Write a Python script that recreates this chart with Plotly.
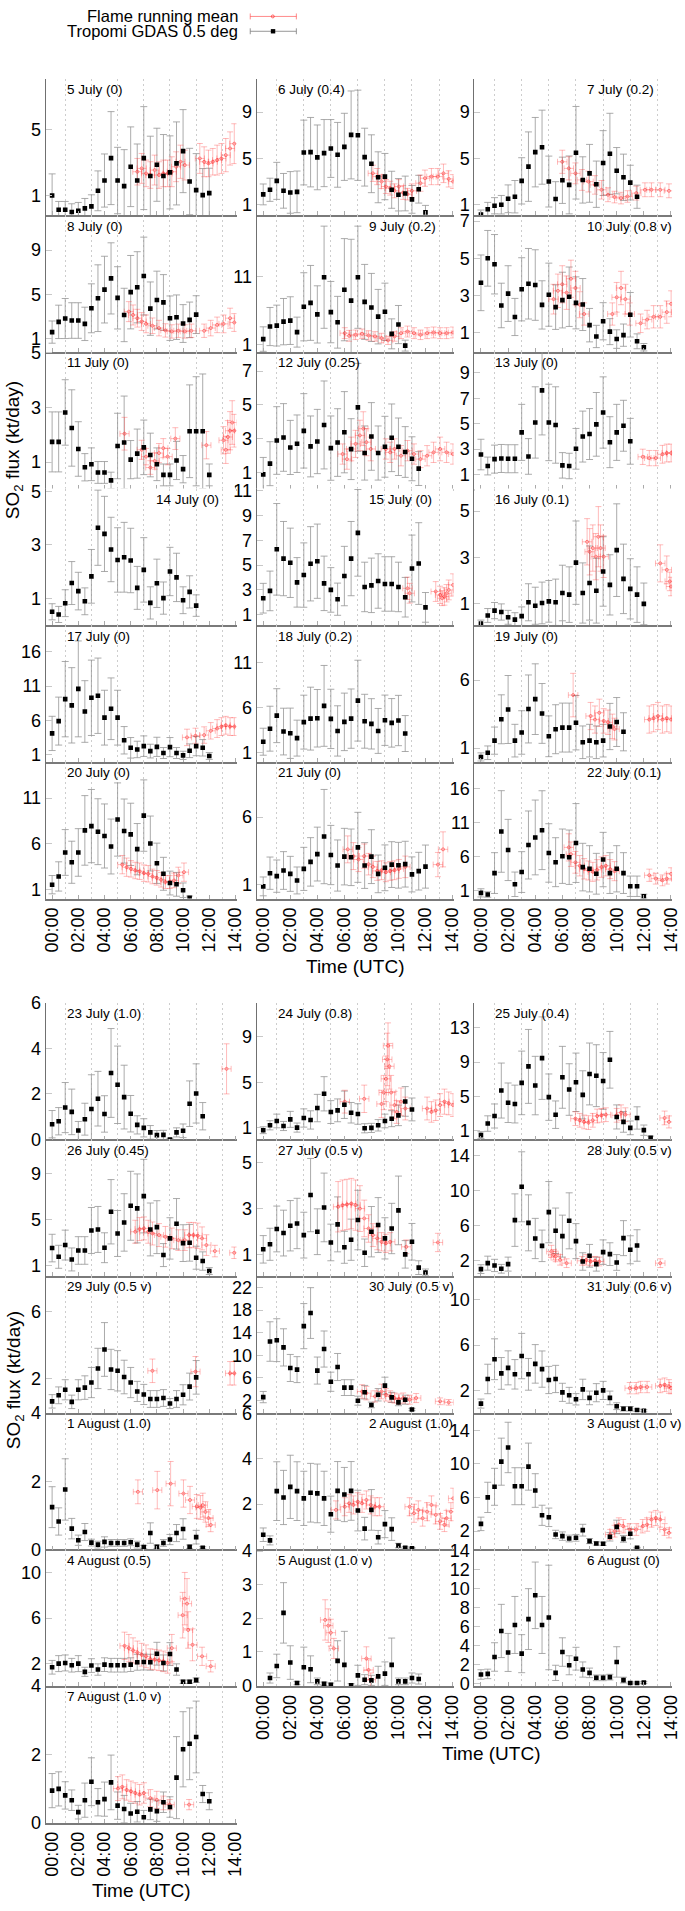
import plotly.graph_objects as go

FIG_W, FIG_H = 685, 1911

HALF_HOURS = [0.0, 0.5, 1.0, 1.5, 2.0, 2.5, 3.0, 3.5, 4.0, 4.5, 5.0, 5.5, 6.0, 6.5,
              7.0, 7.5, 8.0, 8.5, 9.0, 9.5, 10.0, 10.5, 11.0, 11.5, 12.0, 12.5]
X_TICKS = [0, 2, 4, 6, 8, 10, 12, 14]
X_TICKTEXT = ["00:00", "02:00", "04:00", "06:00", "08:00", "10:00", "12:00", "14:00"]
GRID_HOURS = [1, 3, 5, 7, 9, 11, 13]
X_RANGE = [-0.49, 14.08]
FLAME_XERR = 0.35

TITLES = ["5 July (0)", "6 July (0.4)", "7 July (0.2)", "8 July (0)", "9 July (0.2)", "10 July (0.8 v)",
          "11 July (0)", "12 July (0.25)", "13 July (0)", "14 July (0)", "15 July (0)", "16 July (0.1)",
          "17 July (0)", "18 July (0.2)", "19 July (0)", "20 July (0)", "21 July (0)", "22 July (0.1)",
          "23 July (1.0)", "24 July (0.8)", "25 July (0.4)", "26 July (0.45)", "27 July (0.5 v)", "28 July (0.5 v)",
          "29 July (0.5 v)", "30 July (0.5 v)", "31 July (0.6 v)", "1 August (1.0)", "2 August (1.0)", "3 August (1.0 v)",
          "4 August (0.5)", "5 August (1.0 v)", "6 August (0)", "7 August (1.0 v)"]
TITLE_SIDE = ["L", "L", "R", "L", "R", "R", "L", "L", "L", "R", "R", "L", "L", "L", "L", "L", "L", "R",
              "L", "L", "L", "L", "L", "R", "L", "R", "R", "L", "R", "R", "L", "L", "R", "L"]
Y_RANGES = [[-0.17, 8.06], [0.09, 11.9], [0.09, 11.9], [-0.16, 12.13], [-0.06, 20.0], [-0.04, 7.32],
            [0.03, 5.04], [0.06, 8.14], [-0.09, 10.64], [0.01, 5.1], [0.15, 11.19], [0.07, 5.97],
            [-0.05, 19.9], [-0.01, 15.2], [-0.01, 10.04], [0.03, 14.96], [-0.05, 10.1], [-0.12, 19.98],
            [0.0, 6.0], [-0.01, 11.96], [0.0, 15.9], [0.07, 11.96], [0.05, 6.02], [0.25, 15.87],
            [-0.05, 8.09], [-0.2, 24.03], [0.03, 12.08], [0.0, 4.01], [-0.01, 6.04], [-0.17, 16.09],
            [0.03, 12.02], [-0.02, 4.05], [-0.28, 14.1], [0.0, 4.0]]
Y_TICKS = [[1, 5], [1, 5, 9], [1, 5, 9], [1, 5, 9], [1, 11], [1, 3, 5, 7],
           [1, 3, 5], [1, 3, 5, 7], [1, 3, 5, 7, 9], [1, 3, 5], [1, 3, 5, 7, 9, 11], [1, 3, 5],
           [1, 6, 11, 16], [1, 6, 11], [1, 6], [1, 6, 11], [1, 6], [1, 6, 11, 16],
           [0, 2, 4, 6], [1, 5, 9], [1, 5, 9, 13], [1, 5, 9], [1, 3, 5], [2, 6, 10, 14],
           [2, 6], [2, 6, 10, 14, 18, 22], [2, 6, 10], [0, 2, 4], [2, 4, 6], [2, 6, 10, 14],
           [2, 6, 10], [0, 1, 2, 3, 4], [0, 2, 4, 6, 8, 10, 12, 14], [0, 2, 4]]

# ---------------- Tropomi GDAS 0.5 deg (every 30 min from 00:00) ----------------
T_05JUL = [1.02, 0.16, 0.16, 0.02, 0.1, 0.24, 0.36, 1.3, 1.92, 3.27, 1.92, 1.58, 2.75, 1.92, 3.27, 2.19, 2.87, 2.19, 2.41, 2.95, 3.69, 1.86, 1.34, 1.04, 1.16]
E_05JUL = [1.3, 0.5, 0.5, 0.5, 0.5, 0.6, 0.7, 1.2, 1.6, 2.8, 2.0, 2.2, 2.4, 2.2, 3.1, 2.4, 2.2, 2.5, 2.2, 2.5, 2.5, 2.0, 2.2, 1.6, 1.5]
T_06JUL = [1.89, 2.29, 3.06, 2.2, 2.06, 2.11, 5.51, 5.54, 5.09, 5.46, 5.86, 5.31, 6.0, 7.03, 7.0, 5.11, 4.54, 3.37, 3.43, 2.29, 1.86, 1.97, 1.46, 2.34, 0.34]
E_06JUL = [0.9, 1.0, 1.6, 1.5, 1.8, 1.8, 2.8, 3.0, 2.8, 2.9, 2.5, 2.8, 2.9, 3.8, 3.9, 2.5, 2.5, 2.2, 2.0, 1.6, 1.4, 1.5, 1.2, 1.2, 0.6]
T_07JUL = [0.14, 0.6, 0.91, 1.0, 1.51, 1.69, 3.06, 4.29, 5.54, 5.97, 3.0, 1.49, 3.11, 2.71, 5.49, 3.14, 3.71, 2.77, 4.6, 5.4, 3.94, 3.37, 2.91, 1.69]
E_07JUL = [0.4, 0.6, 0.7, 0.8, 1.2, 1.4, 2.0, 3.0, 3.0, 3.2, 2.2, 1.5, 2.0, 2.5, 4.0, 2.0, 2.5, 2.0, 2.8, 3.5, 2.0, 2.0, 1.5, 1.0]
T_08JUL = [1.62, 2.54, 2.84, 2.66, 2.66, 2.36, 3.76, 4.67, 5.44, 6.45, 4.7, 3.16, 5.21, 5.65, 6.66, 3.73, 4.5, 4.29, 2.87, 2.96, 2.39, 2.72, 3.19]
E_08JUL = [1.0, 1.5, 1.8, 1.6, 1.6, 1.5, 2.2, 3.0, 3.0, 3.2, 2.8, 2.4, 3.3, 3.2, 3.5, 2.4, 2.6, 2.5, 2.0, 2.0, 1.7, 1.6, 1.7]
T_09JUL = [1.82, 3.66, 3.8, 4.38, 4.53, 2.84, 6.56, 7.13, 5.44, 10.9, 5.78, 4.29, 9.07, 7.47, 10.9, 7.28, 6.46, 5.11, 5.83, 2.59, 3.95, 0.86]
E_09JUL = [1.8, 2.8, 3.0, 3.4, 3.5, 2.2, 5.0, 5.5, 4.2, 7.5, 4.5, 3.8, 7.5, 9.0, 7.5, 5.5, 5.0, 4.0, 4.2, 2.2, 2.8, 0.8]
T_10JUL = [3.68, 5.0, 4.68, 2.46, 3.1, 1.84, 3.33, 3.63, 3.56, 2.49, 3.04, 2.37, 2.75, 2.93, 2.6, 2.51, 1.4, 0.79, 1.61, 1.05, 0.65, 0.86, 1.96, 0.53, 0.21]
E_10JUL = [1.5, 1.5, 1.6, 1.2, 1.5, 1.0, 1.7, 1.9, 1.9, 1.3, 1.7, 1.2, 1.5, 1.6, 1.4, 1.4, 0.9, 0.6, 1.0, 0.7, 0.5, 0.6, 1.2, 0.4, 0.2]
T_11JUL = [1.74, 1.74, 2.82, 2.25, 1.48, 0.81, 0.92, 0.62, 0.62, 0.33, 1.59, 1.72, 1.09, 1.31, 1.54, 1.26, 0.92, 0.53, 0.53, 1.06, 0.74, 2.13, 2.13, 2.13, 0.53]
E_11JUL = [1.1, 1.1, 1.2, 1.4, 1.0, 0.5, 0.6, 0.4, 0.4, 0.3, 1.2, 1.7, 0.7, 0.9, 1.0, 0.8, 0.6, 0.4, 0.4, 0.7, 0.5, 1.7, 2.0, 2.1, 0.4]
T_12JUL = [0.9, 1.53, 2.9, 3.08, 2.49, 2.71, 3.47, 2.55, 2.84, 3.82, 2.45, 2.78, 3.39, 2.39, 4.86, 2.16, 3.14, 2.16, 2.53, 3.06, 2.53, 2.22, 1.82, 1.24]
E_12JUL = [1.0, 1.3, 2.0, 2.0, 1.6, 1.7, 2.2, 1.8, 1.9, 2.6, 1.9, 2.0, 2.4, 1.8, 2.6, 1.6, 2.0, 1.6, 1.8, 2.0, 1.7, 1.5, 1.3, 1.0]
T_13JUL = [2.58, 1.68, 2.22, 2.27, 2.25, 2.25, 4.32, 2.43, 5.1, 7.62, 5.1, 4.9, 1.73, 1.68, 3.03, 3.99, 4.19, 4.95, 5.88, 3.55, 4.32, 4.84, 3.62]
E_13JUL = [1.2, 0.7, 1.1, 1.1, 1.1, 1.1, 2.2, 1.4, 2.8, 3.5, 3.0, 3.0, 1.0, 1.0, 1.6, 2.0, 2.0, 2.5, 2.8, 2.0, 2.2, 2.0, 1.8]
T_14JUL = [0.51, 0.41, 0.83, 1.58, 1.28, 0.9, 1.83, 3.64, 3.41, 2.83, 2.44, 2.54, 2.42, 1.4, 2.07, 0.84, 1.57, 1.02, 2.01, 1.79, 0.94, 1.25, 0.74]
E_14JUL = [0.3, 0.3, 0.5, 0.8, 0.7, 0.5, 1.0, 1.4, 1.4, 1.2, 1.2, 1.3, 1.2, 0.8, 1.2, 0.6, 0.9, 0.6, 0.9, 0.9, 0.5, 0.6, 0.4]
T_15JUL = [2.33, 2.92, 6.28, 5.53, 5.19, 3.61, 4.2, 5.11, 5.32, 3.53, 3.0, 2.25, 4.12, 5.53, 7.61, 3.24, 3.37, 3.72, 3.48, 3.48, 3.24, 2.41, 4.73, 5.13, 1.59]
E_15JUL = [1.2, 1.6, 3.7, 3.0, 2.8, 2.0, 2.6, 3.0, 3.0, 2.2, 1.8, 1.3, 2.4, 3.0, 3.5, 2.0, 2.2, 2.2, 2.2, 2.2, 2.0, 1.6, 2.7, 3.3, 1.2]
T_16JUL = [0.14, 0.49, 0.7, 0.64, 0.41, 0.31, 0.46, 1.06, 0.91, 1.03, 1.1, 1.06, 1.46, 1.39, 2.77, 1.46, 1.89, 1.56, 2.39, 1.81, 3.31, 2.07, 1.64, 1.39, 0.99]
E_16JUL = [0.15, 0.3, 0.35, 0.35, 0.3, 0.3, 0.4, 0.8, 0.8, 0.9, 0.9, 1.0, 1.2, 1.2, 1.8, 1.3, 1.6, 1.4, 1.5, 1.3, 2.0, 1.5, 1.3, 1.2, 0.9]
T_17JUL = [4.1, 5.9, 9.1, 8.2, 10.6, 7.3, 9.3, 9.6, 6.4, 7.7, 6.4, 3.1, 2.0, 1.76, 2.24, 1.52, 2.14, 1.24, 2.1, 1.24, 0.9, 1.57, 2.24, 2.0, 0.81]
E_17JUL = [2.5, 3.5, 5.5, 5.5, 7.0, 4.5, 5.5, 5.5, 4.0, 4.5, 4.0, 2.0, 1.5, 1.2, 1.5, 1.0, 1.4, 0.8, 1.4, 0.8, 0.6, 1.0, 1.4, 1.2, 0.5]
T_18JUL = [2.23, 3.68, 5.13, 3.36, 3.17, 2.63, 4.41, 4.8, 4.84, 6.22, 4.77, 3.43, 4.44, 4.8, 6.8, 4.51, 4.22, 3.43, 4.62, 4.33, 4.59, 3.14]
E_18JUL = [1.5, 2.5, 3.0, 2.6, 2.8, 2.0, 3.0, 3.5, 3.2, 4.5, 3.3, 2.8, 3.2, 3.3, 4.5, 3.0, 2.8, 2.5, 2.8, 2.7, 2.8, 2.0]
T_19JUL = [0.35, 0.66, 1.55, 3.12, 3.84, 1.55, 2.15, 3.88, 4.6, 3.55, 1.87, 2.39, 2.51, 2.51, 2.87, 1.43, 1.55, 1.43, 1.55, 2.59, 2.92, 2.2]
E_19JUL = [0.3, 0.5, 1.0, 1.8, 2.5, 1.2, 1.6, 2.5, 2.6, 2.2, 1.5, 1.8, 1.8, 1.8, 2.0, 1.2, 1.2, 1.2, 1.2, 1.7, 1.8, 1.4]
T_20JUL = [1.54, 2.44, 5.06, 3.99, 5.06, 7.47, 7.94, 7.33, 6.86, 5.71, 8.66, 7.4, 7.04, 5.42, 9.09, 6.04, 3.88, 2.73, 1.72, 1.58, 0.93, 0.1]
E_20JUL = [1.0, 1.6, 2.5, 2.3, 2.6, 3.8, 4.0, 3.6, 3.5, 3.0, 4.0, 3.5, 3.4, 2.8, 3.9, 3.0, 2.2, 1.8, 1.3, 1.3, 0.8, 0.2]
T_21JUL = [0.85, 1.83, 1.61, 2.03, 1.78, 1.29, 2.15, 2.67, 3.25, 4.55, 3.18, 2.4, 3.06, 3.01, 3.75, 2.4, 3.06, 1.78, 2.23, 2.47, 2.42, 2.5, 1.74, 1.98, 2.32]
E_21JUL = [0.7, 1.2, 1.2, 1.4, 1.3, 1.0, 1.6, 1.8, 2.0, 3.5, 2.2, 1.9, 2.1, 2.1, 2.6, 1.7, 2.0, 1.4, 1.7, 1.7, 1.7, 1.7, 1.3, 1.4, 1.6]
T_22JUL = [0.71, 0.47, 3.62, 9.74, 7.02, 1.97, 3.77, 7.75, 8.86, 9.93, 6.58, 5.22, 6.1, 5.95, 8.04, 4.5, 4.25, 3.52, 5.61, 3.62, 4.25, 3.62, 1.68, 1.68, 0.22]
E_22JUL = [0.6, 0.4, 3.0, 6.0, 4.5, 1.8, 3.0, 5.0, 5.5, 5.8, 4.3, 3.6, 4.0, 4.0, 5.8, 3.5, 3.4, 3.0, 4.0, 3.0, 3.4, 3.0, 1.5, 1.5, 0.3]
T_23JUL = [0.67, 0.8, 1.4, 1.21, 0.39, 0.89, 1.34, 1.79, 1.12, 2.92, 2.4, 1.86, 1.13, 0.64, 0.51, 0.31, 0.19, 0.2, 0.0, 0.31, 0.38, 1.57, 2.02, 1.02]
E_23JUL = [0.6, 0.6, 1.1, 1.0, 0.4, 0.7, 1.5, 1.2, 0.8, 1.95, 1.7, 1.4, 0.8, 0.4, 0.4, 0.3, 0.2, 0.2, 0.05, 0.2, 0.3, 1.0, 1.3, 0.6]
T_24JUL = [0.8, 1.23, 1.61, 1.17, 1.75, 1.03, 1.87, 1.7, 2.74, 3.99, 2.39, 2.54, 3.03, 2.33, 2.22, 0.97, 1.0, 1.23, 1.61, 1.81, 2.1, 3.32, 2.62]
E_24JUL = [0.3, 0.4, 0.6, 0.4, 0.7, 0.4, 0.8, 0.8, 1.2, 1.5, 1.0, 1.0, 1.2, 0.9, 0.9, 0.4, 0.4, 0.5, 0.6, 0.7, 0.9, 1.3, 1.0]
T_25JUL = [0.5, 1.85, 2.73, 5.69, 4.27, 4.12, 6.58, 8.5, 6.27, 9.46, 4.92, 2.88, 7.23, 5.81, 6.65, 5.19, 7.62, 7.42, 6.81, 9.27, 2.62, 2.04, 1.35, 2.5, 1.08, 0.19]
E_25JUL = [0.4, 0.9, 1.4, 3.2, 2.3, 2.2, 3.7, 4.3, 3.4, 4.8, 2.7, 1.6, 3.6, 3.0, 3.4, 2.8, 3.6, 3.6, 3.3, 3.3, 1.4, 1.2, 0.8, 1.3, 0.6, 0.2]
T_26JUL = [2.51, 1.75, 2.77, 1.52, 2.3, 2.3, 4.04, 4.13, 2.54, 5.67, 3.78, 4.74, 6.19, 5.96, 7.03, 4.13, 4.33, 1.9, 3.35, 4.62, 2.94, 2.97, 1.67, 1.38, 0.51]
E_26JUL = [1.2, 1.0, 1.3, 1.0, 1.2, 1.2, 2.0, 2.0, 1.3, 2.8, 2.0, 2.5, 3.0, 3.0, 3.2, 2.3, 2.3, 1.0, 1.8, 2.2, 1.6, 1.6, 1.0, 0.8, 0.3]
T_27JUL = [1.22, 1.44, 2.11, 1.93, 2.25, 2.35, 1.84, 3.59, 1.99, 3.05, 1.52, 2.31, 1.31, 1.64, 2.5, 1.07, 1.99, 2.28, 1.7, 2.13, 2.92, 1.0, 1.55, 0.42, 0.21]
E_27JUL = [0.6, 0.7, 1.0, 1.0, 1.1, 1.1, 1.0, 1.6, 1.0, 1.5, 0.8, 1.2, 0.7, 0.9, 1.3, 0.6, 1.1, 1.2, 0.9, 1.1, 1.5, 0.6, 0.8, 0.3, 0.15]
T_28JUL = [1.05, 1.73, 1.47, 1.09, 1.62, 6.65, 10.46, 6.34, 4.55, 3.71, 7.56, 5.43, 4.82, 6.57, 4.25, 1.92, 2.57, 1.62, 2.99, 2.76, 1.81, 4.59, 3.26, 3.75]
E_28JUL = [0.5, 0.8, 0.7, 0.5, 0.8, 3.0, 4.0, 3.2, 2.3, 1.8, 3.5, 2.6, 2.4, 3.2, 2.0, 1.0, 1.3, 0.8, 1.4, 1.3, 0.9, 2.0, 1.6, 1.8]
T_29JUL = [0.63, 0.99, 1.32, 0.6, 1.32, 1.45, 1.75, 2.59, 3.72, 2.53, 2.45, 2.08, 1.75, 1.22, 1.04, 0.77, 0.77, 0.83, 0.5, 0.77, 1.02, 1.51, 2.06]
E_29JUL = [0.4, 0.5, 0.6, 0.4, 0.6, 0.7, 0.9, 1.2, 1.6, 1.2, 1.2, 1.0, 0.9, 0.6, 0.6, 0.5, 0.5, 0.5, 0.3, 0.5, 0.6, 0.8, 1.0]
T_30JUL = [2.58, 12.43, 12.67, 11.39, 7.74, 7.45, 15.16, 17.48, 7.28, 11.1, 5.3, 7.91, 4.26, 4.26, 1.94, 3.45, 1.19, 2.99, 4.61, 2.52, 1.65, 2.12, 0.38]
E_30JUL = [1.0, 3.5, 3.8, 3.3, 2.4, 2.3, 4.0, 4.5, 2.4, 3.2, 1.7, 2.4, 1.4, 1.4, 0.8, 1.2, 0.5, 1.1, 1.5, 0.9, 0.6, 0.8, 0.2]
T_31JUL = [0.84, 3.01, 4.75, 3.5, 3.99, 3.42, 5.03, 3.42, 4.34, 3.88, 2.92, 3.01, 1.83, 1.57, 1.22, 2.09, 1.34, 1.8, 2.0, 1.34, 0.61, 0.38, 0.38, 0.27, 0.21]
E_31JUL = [0.4, 1.3, 1.8, 1.4, 1.5, 1.3, 2.0, 1.4, 1.7, 1.6, 1.2, 1.2, 0.8, 0.7, 0.5, 0.9, 0.6, 0.8, 0.8, 0.6, 0.3, 0.2, 0.2, 0.1, 0.1]
T_01AUG = [1.24, 0.82, 1.76, 0.61, 0.27, 0.51, 0.2, 0.14, 0.22, 0.19, 0.19, 0.19, 0.21, 0.14, 0.07, 0.48, 0.08, 0.19, 0.29, 0.48, 0.6, 0.08, 0.36, 0.05]
E_01AUG = [0.6, 0.4, 0.9, 0.3, 0.15, 0.25, 0.1, 0.1, 0.15, 0.1, 0.1, 0.1, 0.1, 0.1, 0.05, 0.3, 0.05, 0.1, 0.15, 0.25, 0.3, 0.05, 0.2, 0.03]
T_02AUG = [0.64, 0.39, 2.57, 2.29, 2.76, 2.57, 2.25, 2.5, 2.47, 2.25, 1.55, 2.58, 2.42, 2.58, 1.71, 0.91, 1.74, 0.53, 1.11, 0.89, 0.16, 0.06, 0.04]
E_02AUG = [0.3, 0.2, 1.3, 1.2, 1.4, 1.3, 1.2, 1.3, 1.3, 1.2, 0.8, 1.3, 1.2, 1.3, 0.9, 0.5, 0.9, 0.3, 0.6, 0.5, 0.1, 0.05, 0.03]
T_03AUG = [2.87, 6.02, 7.28, 10.27, 11.96, 7.35, 7.35, 9.68, 6.84, 3.89, 3.65, 1.61, 1.41, 1.13, 1.21, 2.12, 0.82, 0.54, 0.5, 1.33, 2.51, 1.09, 1.69, 0.03]
E_03AUG = [0.8, 1.8, 2.2, 2.8, 3.0, 2.2, 2.2, 2.8, 2.0, 1.2, 1.1, 0.5, 0.5, 0.4, 0.4, 0.7, 0.3, 0.2, 0.2, 0.5, 0.8, 0.4, 0.6, 0.05]
T_04AUG = [1.68, 2.0, 2.06, 1.86, 2.0, 1.28, 1.83, 1.48, 1.91, 1.86, 1.86, 1.86, 1.91, 2.12, 2.14, 2.12, 2.87, 2.06, 2.84, 1.48, 0.41, 0.41, 0.55]
E_04AUG = [0.6, 0.7, 0.7, 0.6, 0.7, 0.4, 0.6, 0.5, 0.6, 0.6, 0.6, 0.6, 0.6, 0.7, 0.7, 0.7, 1.0, 0.7, 1.0, 0.5, 0.15, 0.15, 0.2]
T_05AUG = [None, 0.22, 0.58, 2.16, 0.68, 0.07, 0.54, 0.48, 0.12, 0.05, 0.02, 0.73, 0.61, 0.0, 0.3, 0.17, 0.15, 0.27, 0.35, 0.61, 0.12, 0.12, 0.22, 0.19]
E_05AUG = [None, 0.15, 0.35, 0.9, 0.5, 0.05, 0.6, 0.4, 0.1, 0.05, 0.05, 0.6, 1.0, 0.05, 0.3, 0.15, 0.15, 0.3, 0.35, 0.8, 0.1, 0.1, 0.15, 0.15]
T_06AUG = [0.94, 1.0, 2.78, 5.52, 3.26, 6.15, 3.13, 6.77, 9.27, 6.15, 6.94, 1.11, 3.3, 1.91, 2.6, 1.46, 1.11, 0.59, 0.59, 0.66, 2.26, 0.35, 0.05, 0.05, 0.1]
E_06AUG = [0.5, 0.5, 1.5, 2.8, 2.0, 3.0, 2.0, 3.2, 3.5, 3.0, 5.5, 0.8, 1.5, 1.0, 1.2, 0.8, 0.5, 0.3, 0.3, 0.3, 1.6, 0.3, 0.1, 0.1, 0.1]
T_07AUG = [0.94, 0.99, 0.8, 0.66, 0.31, 0.66, 1.2, 0.6, 0.69, 1.18, 0.5, 0.4, 0.27, 0.32, 0.16, 0.39, 0.34, 0.6, 0.46, 1.32, 2.15, 2.31, 2.51, 0.84, 0.63]
E_07AUG = [0.5, 0.5, 0.4, 0.3, 0.2, 0.5, 0.7, 0.4, 0.5, 0.8, 0.4, 0.4, 0.3, 0.3, 0.2, 0.3, 0.3, 0.3, 0.3, 1.2, 1.1, 1.05, 1.05, 0.25, 0.25]

# ---------------- Flame running mean (time in hours, value, error) ----------------
FT_05JUL = [6.51, 6.84, 7.17, 7.5, 7.83, 8.16, 8.49, 8.82, 9.14, 9.47, 9.8, 10.13, 11.28, 11.61, 11.94, 12.27, 12.6, 12.93, 13.26, 13.59, 13.91]
FV_05JUL = [2.45, 2.65, 2.35, 2.25, 2.55, 2.25, 2.35, 2.35, 2.45, 2.75, 3.05, 2.85, 3.25, 3.05, 2.95, 3.05, 3.15, 3.25, 3.45, 3.85, 4.14]
FE_05JUL = [0.8, 0.9, 0.8, 0.8, 0.9, 0.8, 0.8, 0.8, 0.9, 0.9, 1.0, 0.9, 0.9, 0.9, 0.8, 0.8, 0.9, 0.9, 1.0, 1.0, 1.2]
FT_06JUL = [8.11, 8.43, 8.75, 9.07, 9.39, 9.71, 10.03, 10.35, 10.67, 10.99, 11.63, 11.96, 12.44, 12.92, 13.33, 13.72, 14.04]
FV_06JUL = [3.71, 3.43, 3.0, 2.57, 2.43, 2.2, 2.57, 2.06, 1.91, 2.2, 2.86, 3.29, 3.43, 3.43, 3.71, 3.23, 3.0]
FE_06JUL = [0.7, 0.7, 0.6, 0.6, 0.6, 0.6, 0.6, 0.6, 0.5, 0.6, 0.7, 0.7, 0.7, 0.7, 0.8, 0.7, 0.6]
FT_07JUL = [5.99, 6.47, 6.96, 7.44, 7.92, 8.4, 8.88, 9.36, 9.84, 10.32, 10.8, 11.44, 12.08, 12.56, 13.21, 13.85]
FV_07JUL = [4.71, 4.14, 3.71, 3.14, 3.0, 2.71, 2.29, 1.86, 1.66, 1.57, 1.71, 2.0, 2.29, 2.29, 2.29, 2.2]
FE_07JUL = [1.0, 1.0, 0.9, 0.9, 0.9, 0.8, 0.8, 0.6, 0.5, 0.5, 0.5, 0.6, 0.6, 0.6, 0.6, 0.6]
FT_08JUL = [5.86, 6.18, 6.51, 6.84, 7.17, 7.66, 8.16, 8.65, 9.14, 9.64, 10.13, 10.63, 11.61, 12.11, 12.6, 13.09, 13.59, 13.91]
FV_08JUL = [3.46, 3.16, 2.87, 2.57, 2.36, 2.19, 1.98, 1.77, 1.68, 1.74, 1.68, 1.74, 1.74, 1.98, 2.27, 2.36, 2.87, 2.48]
FE_08JUL = [0.9, 0.9, 0.8, 0.8, 0.8, 0.7, 0.7, 0.6, 0.6, 0.6, 0.6, 0.6, 0.6, 0.7, 0.7, 0.8, 0.9, 0.8]
FT_09JUL = [6.03, 6.35, 6.83, 7.31, 7.79, 8.27, 8.75, 9.23, 9.71, 10.19, 10.67, 11.15, 11.63, 12.12, 12.6, 13.08, 13.56, 14.04]
FV_09JUL = [2.69, 2.3, 2.45, 2.59, 2.35, 2.21, 1.97, 1.63, 2.21, 2.69, 2.93, 2.69, 2.45, 2.69, 2.79, 2.69, 2.69, 2.79]
FE_09JUL = [0.8, 0.8, 0.7, 0.7, 0.7, 0.7, 0.7, 0.6, 0.7, 0.8, 0.8, 0.8, 0.7, 0.8, 0.8, 0.8, 0.8, 0.8]
FT_10JUL = [5.35, 5.67, 5.99, 6.31, 6.63, 6.96, 7.28, 7.6, 9.68, 10.0, 10.32, 10.64, 10.96, 11.76, 12.24, 12.72, 13.21, 13.69, 14.01]
FV_10JUL = [2.8, 3.25, 3.6, 3.15, 3.9, 3.4, 2.5, 2.0, 2.0, 2.9, 3.4, 2.8, 2.0, 1.5, 1.7, 1.85, 1.85, 2.1, 2.55]
FE_10JUL = [0.8, 0.9, 1.0, 0.9, 1.0, 0.9, 0.7, 0.6, 0.6, 0.8, 0.9, 0.8, 0.6, 0.5, 0.5, 0.6, 0.6, 0.6, 0.7]
FT_11JUL = [5.53, 6.84, 7.17, 7.5, 7.83, 8.16, 8.49, 8.82, 9.41, 11.78, 13.09, 13.26, 13.42, 13.59, 13.75, 13.91]
FV_11JUL = [2.04, 1.45, 1.2, 0.8, 1.04, 1.33, 1.51, 1.2, 1.86, 1.62, 1.8, 1.45, 1.92, 2.15, 2.45, 2.15]
FE_11JUL = [0.6, 0.35, 0.3, 0.25, 0.3, 0.35, 0.35, 0.3, 0.4, 0.5, 0.5, 0.5, 0.6, 0.7, 0.8, 0.6]
FT_12JUL = [5.87, 6.19, 6.51, 6.83, 7.15, 7.4, 7.63, 7.95, 9.07, 9.39, 9.71, 10.19, 10.67, 11.15, 11.63, 12.12, 12.6, 13.08, 13.56, 14.04]
FV_12JUL = [2.1, 1.8, 2.4, 2.7, 3.2, 3.6, 2.8, 2.4, 2.4, 2.2, 2.4, 2.0, 2.3, 2.1, 1.8, 2.0, 2.2, 2.4, 2.2, 2.1]
FE_12JUL = [0.6, 0.6, 0.7, 0.8, 0.9, 1.0, 0.8, 0.7, 0.6, 0.6, 0.6, 0.6, 0.6, 0.6, 0.5, 0.6, 0.6, 0.7, 0.6, 0.6]
FT_13JUL = [11.92, 12.4, 12.88, 13.37, 13.69, 14.01]
FV_13JUL = [2.4, 2.3, 2.3, 2.6, 2.7, 2.7]
FE_13JUL = [0.6, 0.6, 0.6, 0.7, 0.7, 0.7]
FT_14JUL = []
FV_14JUL = []
FE_14JUL = []
FT_15JUL = [10.67, 10.83, 12.76, 13.08, 13.24, 13.4, 13.56, 13.72, 14.04]
FV_15JUL = [3.13, 2.73, 2.87, 2.6, 2.33, 2.47, 2.73, 3.0, 3.4]
FE_15JUL = [0.9, 0.8, 0.8, 0.7, 0.6, 0.7, 0.7, 0.8, 0.9]
FT_16JUL = [7.82, 8.01, 8.24, 8.46, 8.65, 8.81, 9.04, 13.21, 13.69, 13.91, 14.0]
FV_16JUL = [3.67, 3.24, 3.4, 3.03, 3.89, 3.4, 3.03, 2.74, 2.46, 1.96, 1.74]
FE_16JUL = [1.0, 1.0, 1.0, 1.0, 1.3, 1.0, 0.9, 0.8, 0.6, 0.4, 0.4]
FT_17JUL = [10.3, 10.95, 11.61, 12.11, 12.6, 12.93, 13.26, 13.59, 13.91]
FV_17JUL = [3.52, 3.76, 3.86, 4.48, 4.81, 5.1, 5.29, 5.1, 5.1]
FE_17JUL = [1.2, 1.1, 1.2, 1.2, 1.3, 1.3, 1.3, 1.3, 1.3]
FT_18JUL = []
FV_18JUL = []
FE_18JUL = []
FT_19JUL = [6.79, 8.08, 8.4, 8.72, 9.04, 9.36, 9.68, 9.84, 12.4, 12.72, 13.04, 13.37, 13.69, 14.01]
FV_19JUL = [4.9, 3.36, 3.1, 3.6, 3.0, 2.9, 2.6, 2.4, 3.1, 3.2, 3.36, 3.1, 3.2, 3.1]
FE_19JUL = [1.6, 1.0, 1.0, 1.0, 0.9, 0.9, 0.9, 0.8, 1.0, 1.0, 1.0, 1.0, 1.0, 1.0]
FT_20JUL = [5.36, 5.69, 6.02, 6.35, 6.68, 7.01, 7.34, 7.66, 7.99, 8.32, 8.65, 8.98, 9.31, 9.64, 10.07]
FV_20JUL = [3.73, 3.45, 3.27, 3.09, 3.01, 2.8, 2.73, 2.44, 2.29, 2.08, 1.83, 1.83, 2.01, 2.55, 2.91]
FE_20JUL = [1.0, 1.0, 0.9, 0.9, 0.9, 0.9, 0.9, 0.8, 0.8, 0.8, 0.7, 0.7, 0.8, 0.9, 1.0]
FT_21JUL = [6.25, 6.67, 7.05, 7.47, 7.79, 8.11, 8.43, 8.75, 9.07, 9.39, 9.71, 10.03, 10.51, 12.92, 13.3]
FV_21JUL = [3.6, 3.1, 2.85, 3.1, 2.5, 2.3, 2.0, 2.05, 1.9, 2.0, 2.05, 2.15, 2.3, 2.47, 3.6]
FE_21JUL = [1.0, 1.0, 0.9, 0.9, 0.8, 0.8, 0.7, 0.7, 0.7, 0.7, 0.7, 0.7, 0.8, 0.9, 1.3]
FT_22JUL = [6.47, 6.63, 6.96, 7.28, 7.6, 7.92, 8.24, 8.56, 8.88, 9.2, 9.52, 9.84, 12.4, 12.88, 13.37, 13.69, 14.01]
FV_22JUL = [7.4, 6.4, 5.2, 4.7, 4.25, 4.0, 3.8, 4.1, 4.5, 4.7, 4.2, 3.9, 3.3, 2.8, 2.55, 2.8, 3.5]
FE_22JUL = [2.0, 1.8, 1.6, 1.5, 1.5, 1.4, 1.4, 1.5, 1.5, 1.5, 1.4, 1.4, 0.9, 0.8, 0.8, 0.8, 0.9]
FT_23JUL = [13.32]
FV_23JUL = [3.1]
FE_23JUL = [1.1]
FT_24JUL = [6.03, 7.47, 8.75, 8.91, 9.07, 9.17, 9.23, 9.33, 9.46, 9.71, 9.87, 10.19, 10.51, 12.12, 12.44, 12.76, 13.08, 13.4, 13.72, 14.04]
FV_24JUL = [3.3, 3.55, 3.1, 4.1, 5.3, 7.0, 8.2, 6.4, 4.1, 3.0, 2.4, 3.3, 2.7, 2.7, 2.4, 2.55, 3.0, 3.3, 3.15, 3.0]
FE_24JUL = [1.0, 1.2, 1.2, 1.5, 2.0, 2.3, 2.0, 2.0, 1.5, 1.2, 1.0, 1.2, 1.0, 1.0, 0.9, 0.9, 1.0, 1.1, 1.0, 1.0]
FT_25JUL = [6.96, 7.28, 7.6, 7.92, 8.24, 8.56, 8.88, 9.2, 10.0, 10.32, 10.64, 13.53, 13.85]
FV_25JUL = [2.42, 2.23, 2.04, 1.96, 2.23, 2.73, 2.81, 2.88, 2.81, 3.12, 2.88, 2.5, 2.04]
FE_25JUL = [0.8, 0.8, 0.8, 0.8, 0.8, 0.8, 0.8, 0.8, 0.8, 0.9, 0.8, 0.8, 0.7]
FT_26JUL = [6.35, 6.68, 7.01, 7.34, 7.66, 8.16, 8.65, 9.14, 9.64, 10.13, 10.46, 10.79, 11.12, 11.45, 11.78, 12.43, 13.91]
FV_26JUL = [3.93, 4.16, 4.22, 3.93, 3.78, 3.64, 3.49, 3.35, 3.2, 3.2, 3.64, 3.64, 3.58, 3.35, 2.77, 2.25, 2.1]
FE_26JUL = [1.0, 1.0, 1.0, 1.0, 1.0, 1.0, 0.9, 0.9, 0.9, 0.9, 1.1, 1.1, 1.1, 1.0, 0.9, 0.5, 0.5]
FT_27JUL = [5.54, 5.87, 6.19, 6.51, 6.83, 7.15, 7.47, 7.79, 8.11, 8.43, 8.75, 9.07, 9.39, 10.58, 12.92]
FV_27JUL = [3.08, 3.15, 3.18, 3.22, 3.15, 3.0, 2.57, 2.13, 1.84, 1.7, 1.55, 1.48, 1.55, 1.33, 1.52]
FE_27JUL = [1.1, 1.1, 1.1, 1.1, 1.1, 1.0, 0.8, 0.6, 0.5, 0.5, 0.4, 0.4, 0.4, 0.3, 0.4]
FT_28JUL = [5.19, 5.35, 5.51, 5.83, 6.31, 7.44, 7.76, 8.08, 8.4, 8.72, 13.21]
FV_28JUL = [3.07, 2.69, 2.5, 2.11, 1.73, 2.0, 2.11, 1.92, 2.0, 1.92, 1.73]
FE_28JUL = [0.7, 0.6, 0.6, 0.6, 0.5, 0.5, 0.6, 0.5, 0.5, 0.5, 0.5]
FT_29JUL = [7.66, 10.95, 13.59, 13.91]
FV_29JUL = [2.45, 2.4, 2.3, 2.3]
FE_29JUL = [0.7, 0.9, 0.7, 0.7]
FT_30JUL = [7.31, 7.63, 8.27, 8.75, 9.07, 9.39, 9.71, 10.03, 10.35, 10.83, 11.31, 13.08, 13.72]
FV_30JUL = [3.57, 3.28, 2.7, 3.57, 2.99, 2.7, 2.41, 2.23, 2.41, 2.12, 2.41, 1.83, 1.65]
FE_30JUL = [1.2, 1.2, 1.0, 1.3, 1.1, 1.0, 0.9, 0.9, 0.9, 0.8, 0.8, 0.6, 0.5]
FT_31JUL = [10.96, 11.44, 11.76, 12.24, 13.21, 13.53, 13.85, 14.01]
FV_31JUL = [2.2, 2.2, 2.3, 2.3, 2.4, 2.5, 2.35, 2.2]
FE_31JUL = [0.5, 0.5, 0.5, 0.5, 0.6, 0.6, 0.6, 0.5]
FT_01AUG = [6.55, 8.03, 9.05, 10.03, 10.53, 11.05, 11.32, 11.51, 11.71, 11.94, 12.11]
FV_01AUG = [1.69, 1.74, 1.93, 1.64, 1.45, 1.26, 1.23, 1.3, 1.1, 0.92, 0.72]
FE_01AUG = [0.35, 0.55, 0.65, 0.4, 0.4, 0.35, 0.35, 0.35, 0.3, 0.25, 0.2]
FT_02AUG = [5.38, 6.03, 6.35, 6.67, 6.99, 7.31, 7.63, 7.95, 8.27, 8.59, 10.83, 11.15, 11.47, 11.79, 12.12, 12.44, 12.76, 13.08, 13.4, 13.56, 13.88, 14.05]
FV_02AUG = [1.74, 1.88, 2.03, 1.96, 2.1, 2.03, 2.18, 1.96, 1.88, 1.88, 1.88, 1.59, 1.74, 1.37, 1.66, 1.96, 1.52, 1.23, 1.08, 1.37, 1.66, 2.25]
FE_02AUG = [0.4, 0.4, 0.4, 0.4, 0.4, 0.4, 0.4, 0.4, 0.4, 0.4, 0.4, 0.4, 0.4, 0.35, 0.4, 0.4, 0.4, 0.35, 0.3, 0.35, 0.4, 0.45]
FT_03AUG = [9.52, 9.84, 10.16, 10.48, 10.96, 11.44, 11.92, 12.24, 12.56, 12.88, 13.21, 13.53, 13.85]
FV_03AUG = [1.61, 2.0, 2.79, 2.59, 2.2, 2.2, 2.59, 2.79, 3.38, 3.57, 3.38, 2.2, 1.8]
FE_03AUG = [0.6, 0.7, 0.8, 0.8, 0.7, 0.7, 0.8, 0.8, 0.9, 0.9, 0.9, 0.7, 0.6]
FT_04AUG = [5.53, 5.86, 6.18, 6.51, 6.84, 7.17, 7.5, 7.83, 8.16, 8.49, 8.82, 9.14, 9.97, 10.13, 10.3, 10.39, 10.72, 11.45, 12.11]
FV_04AUG = [3.56, 3.36, 3.16, 2.98, 2.78, 2.64, 2.4, 2.35, 2.29, 2.2, 2.06, 3.36, 6.25, 7.7, 7.26, 4.95, 3.65, 2.64, 1.77]
FE_04AUG = [1.2, 1.2, 1.1, 1.0, 1.0, 1.0, 0.9, 0.9, 0.9, 0.9, 0.9, 1.2, 2.0, 2.3, 2.2, 1.6, 1.4, 0.8, 0.5]
FT_05AUG = [4.58, 4.81, 5.0, 5.22, 7.63, 7.79, 7.95]
FV_05AUG = [1.95, 1.78, 1.57, 1.1, 0.8, 0.46, 0.17]
FE_05AUG = [0.6, 0.5, 0.4, 0.3, 0.35, 0.3, 0.2]
FT_06AUG = []
FV_06AUG = []
FE_06AUG = []
FT_07AUG = [5.03, 5.36, 5.69, 6.02, 6.35, 6.68, 7.01, 7.5, 7.99, 8.49, 8.98, 10.46]
FV_07AUG = [1.0, 1.05, 0.96, 0.92, 0.87, 0.82, 0.87, 0.72, 0.67, 0.58, 0.53, 0.53]
FE_07AUG = [0.35, 0.35, 0.3, 0.3, 0.3, 0.3, 0.3, 0.25, 0.25, 0.2, 0.15, 0.15]

PANELS = [
    (T_05JUL, E_05JUL, FT_05JUL, FV_05JUL, FE_05JUL), (T_06JUL, E_06JUL, FT_06JUL, FV_06JUL, FE_06JUL),
    (T_07JUL, E_07JUL, FT_07JUL, FV_07JUL, FE_07JUL), (T_08JUL, E_08JUL, FT_08JUL, FV_08JUL, FE_08JUL),
    (T_09JUL, E_09JUL, FT_09JUL, FV_09JUL, FE_09JUL), (T_10JUL, E_10JUL, FT_10JUL, FV_10JUL, FE_10JUL),
    (T_11JUL, E_11JUL, FT_11JUL, FV_11JUL, FE_11JUL), (T_12JUL, E_12JUL, FT_12JUL, FV_12JUL, FE_12JUL),
    (T_13JUL, E_13JUL, FT_13JUL, FV_13JUL, FE_13JUL), (T_14JUL, E_14JUL, FT_14JUL, FV_14JUL, FE_14JUL),
    (T_15JUL, E_15JUL, FT_15JUL, FV_15JUL, FE_15JUL), (T_16JUL, E_16JUL, FT_16JUL, FV_16JUL, FE_16JUL),
    (T_17JUL, E_17JUL, FT_17JUL, FV_17JUL, FE_17JUL), (T_18JUL, E_18JUL, FT_18JUL, FV_18JUL, FE_18JUL),
    (T_19JUL, E_19JUL, FT_19JUL, FV_19JUL, FE_19JUL), (T_20JUL, E_20JUL, FT_20JUL, FV_20JUL, FE_20JUL),
    (T_21JUL, E_21JUL, FT_21JUL, FV_21JUL, FE_21JUL), (T_22JUL, E_22JUL, FT_22JUL, FV_22JUL, FE_22JUL),
    (T_23JUL, E_23JUL, FT_23JUL, FV_23JUL, FE_23JUL), (T_24JUL, E_24JUL, FT_24JUL, FV_24JUL, FE_24JUL),
    (T_25JUL, E_25JUL, FT_25JUL, FV_25JUL, FE_25JUL), (T_26JUL, E_26JUL, FT_26JUL, FV_26JUL, FE_26JUL),
    (T_27JUL, E_27JUL, FT_27JUL, FV_27JUL, FE_27JUL), (T_28JUL, E_28JUL, FT_28JUL, FV_28JUL, FE_28JUL),
    (T_29JUL, E_29JUL, FT_29JUL, FV_29JUL, FE_29JUL), (T_30JUL, E_30JUL, FT_30JUL, FV_30JUL, FE_30JUL),
    (T_31JUL, E_31JUL, FT_31JUL, FV_31JUL, FE_31JUL), (T_01AUG, E_01AUG, FT_01AUG, FV_01AUG, FE_01AUG),
    (T_02AUG, E_02AUG, FT_02AUG, FV_02AUG, FE_02AUG), (T_03AUG, E_03AUG, FT_03AUG, FV_03AUG, FE_03AUG),
    (T_04AUG, E_04AUG, FT_04AUG, FV_04AUG, FE_04AUG), (T_05AUG, E_05AUG, FT_05AUG, FV_05AUG, FE_05AUG),
    (T_06AUG, E_06AUG, FT_06AUG, FV_06AUG, FE_06AUG), (T_07AUG, E_07AUG, FT_07AUG, FV_07AUG, FE_07AUG),
]

# ---------------- layout geometry (pixels) ----------------
COL_PX = [(42.5, 237.0), (257.5, 458.3), (479.4, 681.0)]
ROW_H = 138.1
TOP_GROUP_Y0 = 69.3
BOT_GROUP_Y0 = 1003.3
SHOW_X_LABELS = {15, 16, 17, 31, 32, 33}
FONT = "Liberation Sans, Arial, sans-serif"


def px_x(p):
    return p / FIG_W


def px_y(p):
    return 1 - p / FIG_H


def panel_box(i):
    if i < 18:
        r, c = divmod(i, 3)
        top = TOP_GROUP_Y0 + ROW_H * r
    else:
        r, c = divmod(i - 18, 3)
        top = BOT_GROUP_Y0 + ROW_H * r
    return COL_PX[c], top, top + ROW_H, c


fig = go.Figure()
annotations = []
layout_axes = {}

ERR_GREY = "rgba(150,150,150,0.8)"
ERR_RED = "rgba(255,50,50,0.33)"

for i, (tv, te, ft, fv, fe) in enumerate(PANELS):
    k = i + 1
    xa = "x" if k == 1 else f"x{k}"
    ya = "y" if k == 1 else f"y{k}"
    (left, right), top, bottom, c = panel_box(i)
    times = HALF_HOURS[:len(tv)]
    errs = [0 if e is None else e for e in te]

    fig.add_trace(go.Scatter(
        x=times, y=tv, xaxis=xa, yaxis=ya, mode="markers",
        marker=dict(symbol="square", size=5, color="black", opacity=0),
        error_y=dict(type="data", array=errs, visible=True, color=ERR_GREY, thickness=1, width=3.5),
        showlegend=False, hoverinfo="skip"))
    if ft:
        fig.add_trace(go.Scatter(
            x=ft, y=fv, xaxis=xa, yaxis=ya, mode="markers",
            marker=dict(symbol="circle-open", size=3, color="rgba(255,0,0,0.55)", line=dict(width=0.8)),
            error_y=dict(type="data", array=fe, visible=True, color=ERR_RED, thickness=1, width=3),
            error_x=dict(type="constant", value=FLAME_XERR, visible=True, color=ERR_RED, thickness=1, width=3),
            showlegend=False, hoverinfo="skip"))
    fig.add_trace(go.Scatter(
        x=times, y=tv, xaxis=xa, yaxis=ya, mode="markers",
        marker=dict(symbol="square", size=4.6, color="black"),
        showlegend=False, hoverinfo="skip"))

    xname = "xaxis" if k == 1 else f"xaxis{k}"
    yname = "yaxis" if k == 1 else f"yaxis{k}"
    layout_axes[xname] = dict(
        domain=[px_x(left), px_x(right)], anchor=ya, range=X_RANGE,
        tickmode="array", tickvals=X_TICKS, ticktext=X_TICKTEXT,
        showticklabels=(i in SHOW_X_LABELS), tickangle=-90,
        tickfont=dict(size=18, color="black", family=FONT),
        ticks="inside", ticklen=4, tickcolor="#aaaaaa",
        showline=True, linecolor="#7a7a7a", linewidth=1.5,
        showgrid=False, zeroline=False, fixedrange=True,
        minor=dict(tickmode="array", tickvals=GRID_HOURS, showgrid=True,
                   griddash="2px,3px", gridcolor="#cdcdcd", gridwidth=1, ticks=""),
    )
    layout_axes[yname] = dict(
        domain=[px_y(bottom), px_y(top)], anchor=xa, range=Y_RANGES[i],
        tickmode="array", tickvals=Y_TICKS[i],
        tickfont=dict(size=18, color="black", family=FONT),
        ticks="inside", ticklen=6, tickcolor="#c8c8c8",
        showline=True, linecolor="#707070", linewidth=1,
        showgrid=False, zeroline=False, fixedrange=True,
    )

    right_offsets = [110.0, 113.0, 112.6]
    tx = left + (19.5 if TITLE_SIDE[i] == "L" else right_offsets[c])
    annotations.append(dict(
        text=TITLES[i], xref="paper", yref="paper", x=px_x(tx), y=px_y(top + 11),
        xanchor="left", yanchor="middle", showarrow=False,
        font=dict(size=13.5, color="black", family=FONT)))

# axis titles
for (xp, yp) in [(358, 967), (497, 1762), (139.8, 1900)]:
    annotations.append(dict(text="Time (UTC)", xref="paper", yref="paper", x=px_x(xp), y=px_y(yp),
                            xanchor="center", yanchor="middle", showarrow=False,
                            font=dict(size=19, color="black", family=FONT)))
for yp in [445, 1385]:
    annotations.append(dict(text="SO<sub>2</sub> flux (kt/day)", xref="paper", yref="paper",
                            x=px_x(11), y=px_y(yp), xanchor="center", yanchor="middle",
                            textangle=-90, showarrow=False,
                            font=dict(size=19, color="black", family=FONT)))

# legend (drawn as key)
LEGEND = [("Flame running mean", 6.5, "rgba(255,60,60,0.6)", "red"),
          ("Tropomi GDAS 0.5 deg", 21.5, "rgba(130,130,130,0.85)", "black")]
shapes = []
for label, yp, lc, mc in LEGEND:
    annotations.append(dict(text=label, xref="paper", yref="paper", x=px_x(241), y=px_y(yp),
                            xanchor="right", yanchor="middle", showarrow=False,
                            font=dict(size=16.5, color="black", family=FONT)))
    shapes.append(dict(type="line", xref="paper", yref="paper", x0=px_x(251), x1=px_x(298),
                       y0=px_y(yp), y1=px_y(yp), line=dict(color=lc, width=1)))
    for xe in (251, 298):
        shapes.append(dict(type="line", xref="paper", yref="paper", x0=px_x(xe), x1=px_x(xe),
                           y0=px_y(yp - 3), y1=px_y(yp + 3), line=dict(color=lc, width=1)))
    if mc == "red":
        shapes.append(dict(type="circle", xref="paper", yref="paper", x0=px_x(272.5), x1=px_x(275.5),
                           y0=px_y(yp - 1.5), y1=px_y(yp + 1.5), line=dict(color="rgba(255,0,0,0.7)", width=0.8)))
    else:
        shapes.append(dict(type="rect", xref="paper", yref="paper", x0=px_x(272), x1=px_x(276.5),
                           y0=px_y(yp - 2.2), y1=px_y(yp + 2.2), fillcolor="black", line=dict(width=0)))

fig.update_layout(
    width=FIG_W, height=FIG_H, margin=dict(l=0, r=0, t=0, b=0),
    paper_bgcolor="white", plot_bgcolor="white", showlegend=False,
    font=dict(family=FONT, color="black"),
    annotations=annotations, shapes=shapes, **layout_axes)

fig.write_html("out.html", config={"displayModeBar": False},
               post_script="document.body.style.margin='0px';document.body.style.overflow='hidden';")
